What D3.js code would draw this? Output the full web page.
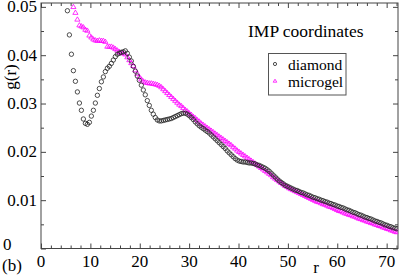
<!DOCTYPE html>
<html>
<head>
<meta charset="utf-8">
<script src="https://cdn.jsdelivr.net/npm/d3@7"></script>
<style>
body { margin: 0; background: #fff; }
</style>
</head>
<body>
<svg width="399" height="279"></svg>
<script>
// r values shared by both series
var rValues = [
5.35, 5.75, 6.16, 6.56, 6.97, 7.37, 7.78, 8.18, 8.58, 8.99,
9.39, 9.80, 10.20, 10.61, 11.01, 11.42, 11.82, 12.23, 12.63, 13.03,
13.44, 13.84, 14.25, 14.65, 15.06, 15.46, 15.87, 16.27, 16.67, 17.08,
17.48, 17.89, 18.29, 18.70, 19.10, 19.51, 19.91, 20.32, 20.72, 21.12,
21.53, 21.93, 22.34, 22.74, 23.15, 23.55, 23.96, 24.36, 24.77, 25.17,
25.57, 25.98, 26.38, 26.79, 27.19, 27.60, 28.00, 28.41, 28.81, 29.22,
29.62, 30.02, 30.43, 30.83, 31.24, 31.64, 32.05, 32.45, 32.86, 33.26,
33.67, 34.07, 34.47, 34.88, 35.28, 35.69, 36.09, 36.50, 36.90, 37.31,
37.71, 38.11, 38.52, 38.92, 39.33, 39.73, 40.14, 40.54, 40.95, 41.35,
41.76, 42.16, 42.56, 42.97, 43.37, 43.78, 44.18, 44.59, 44.99, 45.40,
45.80, 46.20, 46.61, 47.01, 47.42, 47.82, 48.23, 48.63, 49.04, 49.44,
49.85, 50.25, 50.65, 51.06, 51.46, 51.87, 52.27, 52.68, 53.08, 53.49,
53.89, 54.29, 54.70, 55.10, 55.51, 55.91, 56.32, 56.72, 57.13, 57.53,
57.94, 58.34, 58.74, 59.15, 59.55, 59.96, 60.36, 60.77, 61.17, 61.58,
61.98, 62.38, 62.79, 63.19, 63.60, 64.00, 64.41, 64.81, 65.22, 65.62,
66.03, 66.43, 66.83, 67.24, 67.64, 68.05, 68.45, 68.86, 69.26, 69.67,
70.07, 70.47, 70.88, 71.28, 71.69, 72.09
];

var diamondG = [
.0492, .0442, .0402, .0368, .0346, .0324, .0301, .0286, .0268, .0259,
.0257, .0261, .0274, .0286, .0301, .0317, .0331, .0345, .0355, .0366,
.0373, .0377, .0383, .0390, .0397, .0402, .0404, .0406, .0407, .0409,
.0404, .0396, .0388, .0377, .0367, .0357, .0348, .0338, .0328, .0318,
.0306, .0296, .0286, .0278, .0271, .0266, .0264, .0264, .0265, .0266,
.0267, .0268, .0269, .0271, .0273, .0275, .0277, .0279, .0280, .0280,
.0278, .0275, .0271, .0267, .0262, .0258, .0254, .0251, .0248, .0245,
.0242, .0239, .0235, .0231, .0227, .0223, .0219, .0215, .0211, .0207,
.0202, .0198, .0194, .0190, .0186, .0183, .0181, .0180, .0179, .0179,
.0178, .0177, .0177, .0176, .0175, .0173, .0172, .0170, .0168, .0166,
.0163, .0160, .0156, .0152, .0148, .0144, .0140, .0137, .0134, .0131,
.0129, .0127, .0125, .0123, .0121, .0120, .0118, .0116, .0115, .0113,
.0111, .0110, .0108, .0106, .0105, .0103, .0102, .0100, .0099, .0097,
.0096, .0094, .0093, .0091, .0090, .0088, .0087, .0085, .0084, .0082,
.0080, .0079, .0077, .0075, .0074, .0072, .0070, .0069, .0067, .0065,
.0064, .0062, .0061, .0059, .0057, .0056, .0054, .0053, .0051, .0049,
.0048, .0046, .0045, .0043, .0042, .0041
];

// microgel starts at rValues[3] (earlier points are above the frame)
var microgelG = [
.0500, .0488, .0474, .0462, .0460, .0458, .0453,
.0451, .0441, .0437, .0433, .0431, .0430, .0431, .0430, .0430, .0428,
.0418, .0418, .0418, .0416, .0413, .0410, .0407, .0405, .0404, .0402,
.0396, .0390, .0384, .0378, .0369, .0362, .0355, .0350, .0346, .0344,
.0343, .0342, .0342, .0341, .0340, .0339, .0337, .0334, .0330, .0326,
.0322, .0318, .0314, .0310, .0306, .0302, .0298, .0295, .0291, .0287,
.0284, .0280, .0277, .0273, .0270, .0266, .0263, .0259, .0256, .0253,
.0250, .0247, .0244, .0241, .0238, .0235, .0232, .0229, .0226, .0223,
.0220, .0217, .0214, .0210, .0207, .0203, .0200, .0197, .0194, .0191,
.0188, .0185, .0182, .0179, .0176, .0173, .0170, .0167, .0164, .0161,
.0158, .0155, .0152, .0148, .0145, .0142, .0139, .0136, .0133, .0130,
.0128, .0125, .0123, .0121, .0119, .0117, .0115, .0113, .0111, .0109,
.0107, .0105, .0103, .0101, .0099, .0097, .0096, .0094, .0092, .0091,
.0089, .0087, .0086, .0084, .0082, .0080, .0078, .0077, .0075, .0073,
.0072, .0070, .0069, .0067, .0066, .0064, .0062, .0061, .0059, .0058,
.0056, .0055, .0053, .0052, .0050, .0049, .0047, .0046, .0044, .0043,
.0041, .0040, .0038, .0037, .0035, .0034
];

var xTicks = [0, 10, 20, 30, 40, 50, 60, 70];
var xMinor = [2, 4, 6, 8, 12, 14, 16, 18, 22, 24, 26, 28, 32, 34, 36, 38, 42, 44, 46, 48, 52, 54, 56, 58, 62, 64, 66, 68, 72];
var yTicks = [0, 0.01, 0.02, 0.03, 0.04, 0.05];
var yMinor = [0.005, 0.015, 0.025, 0.035, 0.045];
var legendNames = ["diamond", "microgel"];

var frame = {left: 41, right: 398, top: 3, bottom: 248.5};
var textColor = "#000";

var svg = d3.select("svg");

var xScale = d3.scaleLinear().domain([0, 72.3]).range([frame.left, frame.right]);
var yScale = d3.scaleLinear().domain([0, 0.0508]).range([frame.bottom, frame.top]);

var diamond = diamondG.map(function(g, i) { return {r: rValues[i], g: g}; });
var microgel = microgelG.map(function(g, i) { return {r: rValues[i + 3], g: g}; });

svg.append("defs").append("clipPath").attr("id", "plotclip")
  .append("rect")
  .attr("x", frame.left).attr("y", frame.top)
  .attr("width", frame.right - frame.left).attr("height", frame.bottom - frame.top);

// axes, ticks pointing inward
var axisColor = "#444";
function styleAxis(g) {
  g.select(".domain").remove();
  g.selectAll("line").attr("stroke", axisColor);
}
// tick labels are drawn as plain text so their font is set in one place
function serifText(sel, size) {
  return sel.style("font-family", "'Liberation Serif'").style("font-size", size + "px").attr("fill", textColor);
}

svg.append("g").attr("transform", "translate(0," + frame.bottom + ")")
  .call(d3.axisBottom(xScale).tickValues(xTicks).tickSize(-5).tickFormat(""))
  .call(styleAxis);
svg.append("g").attr("transform", "translate(0," + frame.bottom + ")")
  .call(d3.axisBottom(xScale).tickValues(xMinor).tickSize(-3).tickFormat(""))
  .call(styleAxis);
svg.append("g").attr("transform", "translate(0," + frame.top + ")")
  .call(d3.axisTop(xScale).tickValues(xTicks).tickSize(-5).tickFormat(""))
  .call(styleAxis);
svg.append("g").attr("transform", "translate(0," + frame.top + ")")
  .call(d3.axisTop(xScale).tickValues(xMinor).tickSize(-3).tickFormat(""))
  .call(styleAxis);
svg.append("g").attr("transform", "translate(" + frame.left + ",0)")
  .call(d3.axisLeft(yScale).tickValues(yTicks).tickSize(-5).tickFormat(""))
  .call(styleAxis);
svg.append("g").attr("transform", "translate(" + frame.left + ",0)")
  .call(d3.axisLeft(yScale).tickValues(yMinor).tickSize(-3).tickFormat(""))
  .call(styleAxis);
svg.append("g").attr("transform", "translate(" + frame.right + ",0)")
  .call(d3.axisRight(yScale).tickValues(yTicks).tickSize(-5).tickFormat(""))
  .call(styleAxis);
svg.append("g").attr("transform", "translate(" + frame.right + ",0)")
  .call(d3.axisRight(yScale).tickValues(yMinor).tickSize(-3).tickFormat(""))
  .call(styleAxis);

svg.selectAll("text.xlab").data(xTicks).enter().append("text").attr("class", "xlab")
  .attr("x", function(d) { return xScale(d); })
  .attr("y", frame.bottom + 18)
  .attr("text-anchor", "middle")
  .text(function(d) { return d; })
  .call(serifText, 17);

svg.selectAll("text.ylab").data(yTicks).enter().append("text").attr("class", "ylab")
  .attr("x", function(d) { return d === 0 ? 3 : frame.left - 4; })
  .attr("y", function(d) { return yScale(d) + (d === 0 ? 1.5 : 5.5); })
  .attr("text-anchor", function(d) { return d === 0 ? "start" : "end"; })
  .text(function(d) { return d === 0 ? "0" : d3.format(".2f")(d); })
  .call(serifText, 17);

svg.append("rect")
  .attr("x", frame.left).attr("y", frame.top)
  .attr("width", frame.right - frame.left).attr("height", frame.bottom - frame.top)
  .attr("fill", "none").attr("stroke", axisColor).attr("stroke-width", 1);

// data
var plot = svg.append("g").attr("clip-path", "url(#plotclip)");

var triPath = "M0,-2.6L2.6,1.7L-2.6,1.7Z";

plot.append("g").selectAll("path")
  .data(microgel)
  .enter().append("path")
  .attr("d", triPath)
  .attr("transform", function(d) { return "translate(" + xScale(d.r) + "," + yScale(d.g) + ")"; })
  .attr("fill", "none")
  .attr("stroke", "#ff00ff")
  .attr("stroke-width", 0.8);

plot.append("g").selectAll("circle")
  .data(diamond)
  .enter().append("circle")
  .attr("cx", function(d) { return xScale(d.r); })
  .attr("cy", function(d) { return yScale(d.g); })
  .attr("r", 2.2)
  .attr("fill", "none")
  .attr("stroke", "#222")
  .attr("stroke-width", 0.8);

// labels
svg.append("text").attr("x", 248).attr("y", 36.5).text("IMP coordinates").call(serifText, 17.5);
svg.append("text").attr("transform", "translate(16,77) rotate(-90)").attr("text-anchor", "middle")
  .text("g(r)").call(serifText, 17);
svg.append("text").attr("x", 316).attr("y", 273).attr("text-anchor", "middle").text("r").call(serifText, 17);
svg.append("text").attr("x", 2).attr("y", 271).text("(b)").call(serifText, 17);

// legend
var legend = svg.append("g").attr("id", "legend");
legend.append("rect")
  .attr("x", 268.5).attr("y", 53.5).attr("width", 77.5).attr("height", 41.5)
  .attr("fill", "#fff").attr("stroke", "#555").attr("stroke-width", 1);

var items = legend.selectAll("g.item")
  .data(legendNames)
  .enter().append("g").attr("class", "item")
  .attr("transform", function(d, i) { return "translate(275," + (64 + i * 17) + ")"; });

items.each(function(d, i) {
  var g = d3.select(this);
  if (i === 0) {
    g.append("circle").attr("r", 1.6).attr("fill", "none").attr("stroke", "#222").attr("stroke-width", 0.8);
  } else {
    g.append("path").attr("d", "M0,-1.8L1.8,1.2L-1.8,1.2Z").attr("fill", "none").attr("stroke", "#ff00ff").attr("stroke-width", 0.8);
  }
  g.append("text").attr("x", 13).attr("y", 5.5).text(d).call(serifText, 15.5);
});
</script>
</body>
</html>
